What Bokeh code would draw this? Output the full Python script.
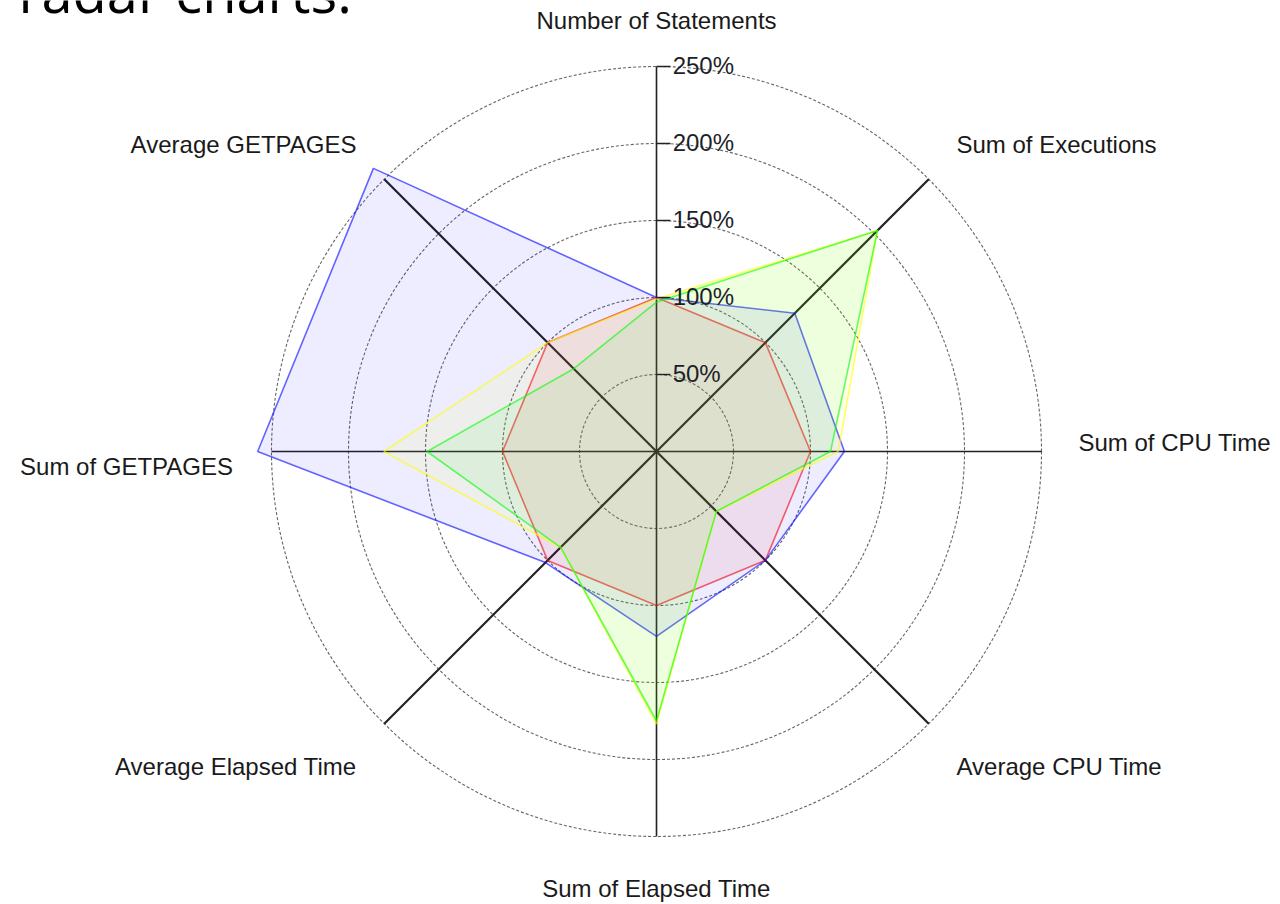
import numpy as np
from bokeh.plotting import figure
from bokeh.models import Range1d, ColumnDataSource
from bokeh.core.properties import value
from bokeh.embed import file_html
from bokeh.resources import INLINE

# ---- data ----
categories = ["Number of Statements", "Sum of Executions", "Sum of CPU Time",
              "Average CPU Time", "Sum of Elapsed Time", "Average Elapsed Time",
              "Sum of GETPAGES", "Average GETPAGES"]
red_vals = [100, 100, 100, 100, 100, 100, 100, 100]
blue_vals = [100, 127, 122, 100, 120, 102, 259, 260]
yellow_vals = [99, 203, 118, 55, 177, 88, 177, 100]
green_vals = [97, 203, 113, 55, 175, 88, 149, 76]
ring_levels = [50, 100, 150, 200, 250]
ring_labels = ["50%", "100%", "150%", "200%", "250%"]
title_text = "radar charts:"

# ---- layout ----
W, H = 1280, 904
PX = 1.54           # pixels per percent
CX, CY = 656, 451   # centre in pixels (from top-left)
x0 = -CX / PX
x1 = (W - CX) / PX
y0 = -(H - CY) / PX
y1 = CY / PX

p = figure(width=W, height=H, x_range=Range1d(x0, x1), y_range=Range1d(y0, y1),
           output_backend="svg", toolbar_location=None,
           x_axis_type=None, y_axis_type=None, min_border=0,
           outline_line_color=None, background_fill_color="white")

n = len(categories)
theta = np.deg2rad(90 - np.arange(n) * 360.0 / n)
rmax = ring_levels[-1]

# rings
for r in ring_levels:
    p.circle(x=[0], y=[0], radius=r, fill_color=None, line_color="#555555",
             line_width=1.1, line_dash="3 2", line_alpha=0.9)

# spokes
for i, t in enumerate(theta):
    lw = 2.2 if i % 2 == 1 else 1.6
    p.line([0, rmax * np.cos(t)], [0, rmax * np.sin(t)], line_color="#222222",
           line_width=lw)

# series polygons
series = [(red_vals, "#ff0000"), (blue_vals, "#0000ff"),
          (yellow_vals, "#ffff00"), (green_vals, "#00ff00")]
for vals, col in series:
    v = np.array(vals, dtype=float)
    xs = list(v * np.cos(theta))
    ys = list(v * np.sin(theta))
    p.patch(xs + [xs[0]], ys + [ys[0]], fill_color=col, fill_alpha=0.07,
            line_color=col, line_alpha=0.6, line_width=1.6)

# ring ticks and labels on vertical axis
tick_len = 9
for r, lab in zip(ring_levels, ring_labels):
    p.line([0, tick_len], [r, r], line_color="#222222", line_width=1.4)
p.text(x=[tick_len + 1.5] * len(ring_levels), y=[r + 0.5 for r in ring_levels],
       text=ring_labels, text_font=value("Liberation Sans"),
       text_font_size="24px", text_color="#1e1e2a",
       text_align="left", text_baseline="middle")

# category labels
lab_r = [280, 275.5, 274, 275.5, 284, 275.5, 275, 275.5]
lab_dy = [0, 4.6, 6, -9.7, 0, -9.7, -10, 4.6]
aligns = []
for t in theta:
    c = np.cos(t)
    aligns.append("center" if abs(c) < 0.1 else ("left" if c > 0 else "right"))
lx = [lab_r[i] * np.cos(theta[i]) for i in range(n)]
ly = [lab_r[i] * np.sin(theta[i]) + lab_dy[i] for i in range(n)]
src = ColumnDataSource(dict(x=lx, y=ly, text=categories, align=aligns))
p.text(x="x", y="y", text="text", text_align="align", source=src,
       text_font=value("Liberation Sans"), text_font_size="24px",
       text_color="#1a1a1a", text_baseline="middle")

# heading at top-left, partly above the page edge as in the source image
p.text(x=[(18 - CX) / PX], y=[(CY + 10) / PX], text=[title_text],
       text_font=value("Open Sans"), text_font_size="56px", text_color="#000000",
       text_align="left", text_baseline="alphabetic")

open("out.html", "w").write(file_html(p, INLINE))
